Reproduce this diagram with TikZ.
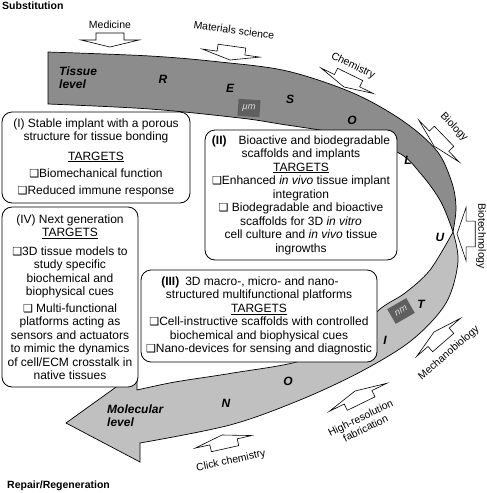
\documentclass[tikz,border=0pt]{standalone}
\usepackage{fontspec}
\setmainfont{Liberation Sans}
\newfontfamily\symfont{DejaVu Sans}
\newcommand{\tickbox}{{\symfont\fontsize{11}{11}\selectfont ❑}}

\begin{document}
\begin{tikzpicture}[x=1pt, y=-1pt,
	band/.style={draw=black, line width=0.7pt},
	panel/.style={draw, rounded corners=10pt, fill=white, line width=0.8pt, align=center, inner sep=0pt, font=\fontsize{12}{13.5}\selectfont},
	letter/.style={font=\bfseries\itshape\fontsize{12}{13}\selectfont, inner sep=0pt},
	source/.style={font=\fontsize{10.5}{11.5}\selectfont, inner sep=0pt, align=center},
	scalebox/.style={fill=boxgray, text=white!85!black, font=\itshape\fontsize{9.5}{10}\selectfont, minimum width=22pt, minimum height=17pt, inner sep=0pt},
	pics/inflow/.style={code={\draw[fill=white, line width=0.6pt] (-14,-14) -- (14,-14) -- (14,-7) -- (29,-7) -- (0,0) -- (-29,-7) -- (-14,-7) -- cycle;}}]
	\definecolor{darkband}{RGB}{140,140,140}
	\definecolor{lightband}{RGB}{192,192,192}
	\definecolor{boxgray}{RGB}{95,95,95}

	\useasboundingbox (0,0) rectangle (487,493);

	% ribbon, tissue side
	\filldraw[band, fill=darkband] plot[smooth, tension=0.55] coordinates {(48,52) (150,56) (220,62) (287,71) (353,93) (403,121) (437,151) (452,183) (456,208) (453,232)}
		-- plot[smooth, tension=0.55] coordinates {(453,232) (441,202) (421,174) (397,152) (340,134) (280,124) (240,118) (150,109) (48,104)} -- cycle;
	% ribbon, molecular side
	\filldraw[band, fill=lightband] plot[smooth, tension=0.55] coordinates {(453,232) (458,262) (446,303) (412,340) (362,371) (300,400) (230,425) (140,443)}
		-- (140,462) -- (66,423) -- (137,372)
		-- plot[smooth, tension=0.55] coordinates {(137,390) (175,382) (233,373) (300,361) (350,338) (380,309) (405,293) (430,270) (453,232)} -- cycle;

	\foreach \ch/\x/\y [count=\i] in {R/163/79, E/230/88, S/290/99, O/352/120, L/408/160, U/440/237, T/421/304, I/385/340, O/288/381, N/226/403}
		\node[letter] (ch\i) at (\x,\y) {\ch};
	\node[letter, align=left, anchor=west] (tissue) at (59,78) {Tissue\\level};
	\node[letter, align=left, anchor=west] (molecular) at (107,416) {Molecular\\level};
	\node[scalebox, rotate=-4] (micro) at (249,108) {µm};
	\node[scalebox, rotate=30] (nano) at (401,311) {nm};

	% the four stages
	\node[panel, minimum width=188pt, minimum height=91pt] (stable) at (96,157.5) {(I) Stable implant with a porous\\ structure for tissue bonding\\[6pt] \underline{TARGETS}\\[4pt] \tickbox Biomechanical function\\[3pt] \tickbox Reduced immune response};
	\node[panel, minimum width=192pt, minimum height=130pt] (bioactive) at (301,195) {\textbf{(II)}\quad Bioactive and biodegradable\\ scaffolds and implants\\ \underline{TARGETS}\\ \tickbox Enhanced \textit{in vivo} tissue implant\\ integration\\ \tickbox\ Biodegradable and bioactive\\ scaffolds for 3D \textit{in vitro}\\ cell culture and \textit{in vivo} tissue\\ ingrowths};
	\node[panel, minimum width=236pt, minimum height=92pt] (platforms) at (259,316) {\textbf{(III)}\enspace 3D macro-, micro- and nano-\kern18pt\\ structured multifunctional platforms\\ \underline{TARGETS}\\ \tickbox Cell-instructive scaffolds with controlled\\ biochemical and biophysical cues\\ \tickbox Nano-devices for sensing and diagnostic};
	\node[panel, minimum width=136pt, minimum height=180pt] (nextgen) at (70,297) {(IV) Next generation\\ \underline{TARGETS}\\[5pt] \tickbox 3D tissue models to\\ study specific\\ biochemical and\\ biophysical cues\\[3pt] \tickbox\ Multi-functional\\ platforms acting as\\ sensors and actuators\\ to mimic the dynamics\\ of cell/ECM crosstalk in\\ native tissues};

	% disciplines feeding in
	\node[source] (medicine) at (110,25) {Medicine};
	\pic at (110,47) {inflow};
	\node[source, rotate=-8] (materials) at (234,30) {Materials science};
	\pic[rotate=-8] at (230,60) {inflow};
	\node[source, rotate=-26] (chemistry) at (353,66) {Chemistry};
	\pic[rotate=-26] at (344,87) {inflow};
	\node[source, rotate=-46] (biology) at (454,127) {Biology};
	\pic[rotate=-46] at (434,146) {inflow};
	\node[source, rotate=-90] (biotech) at (481,236) {Biotechnology};
	\pic[rotate=-90, xscale=0.92, yscale=1.3] at (457,234) {inflow};
	\node[source, rotate=41] (mechano) at (449,353) {Mechanobiology};
	\pic[rotate=-139] at (434,332) {inflow};
	\node[source, rotate=26] (highres) at (363,423) {High-resolution\\fabrication};
	\pic[rotate=-154, xscale=1.1] at (355,391) {inflow};
	\node[source, rotate=12.5] (click) at (231,461) {Click chemistry};
	\pic[rotate=-167.5] at (222,435) {inflow};

	\node[font=\bfseries\fontsize{10.5}{11}\selectfont, anchor=west, inner sep=0pt] (subst) at (2,6) {Substitution};
	\node[font=\bfseries\fontsize{10.5}{11}\selectfont, anchor=west, inner sep=0pt] (repair) at (7,486) {Repair/Regeneration};
\end{tikzpicture}
\end{document}
